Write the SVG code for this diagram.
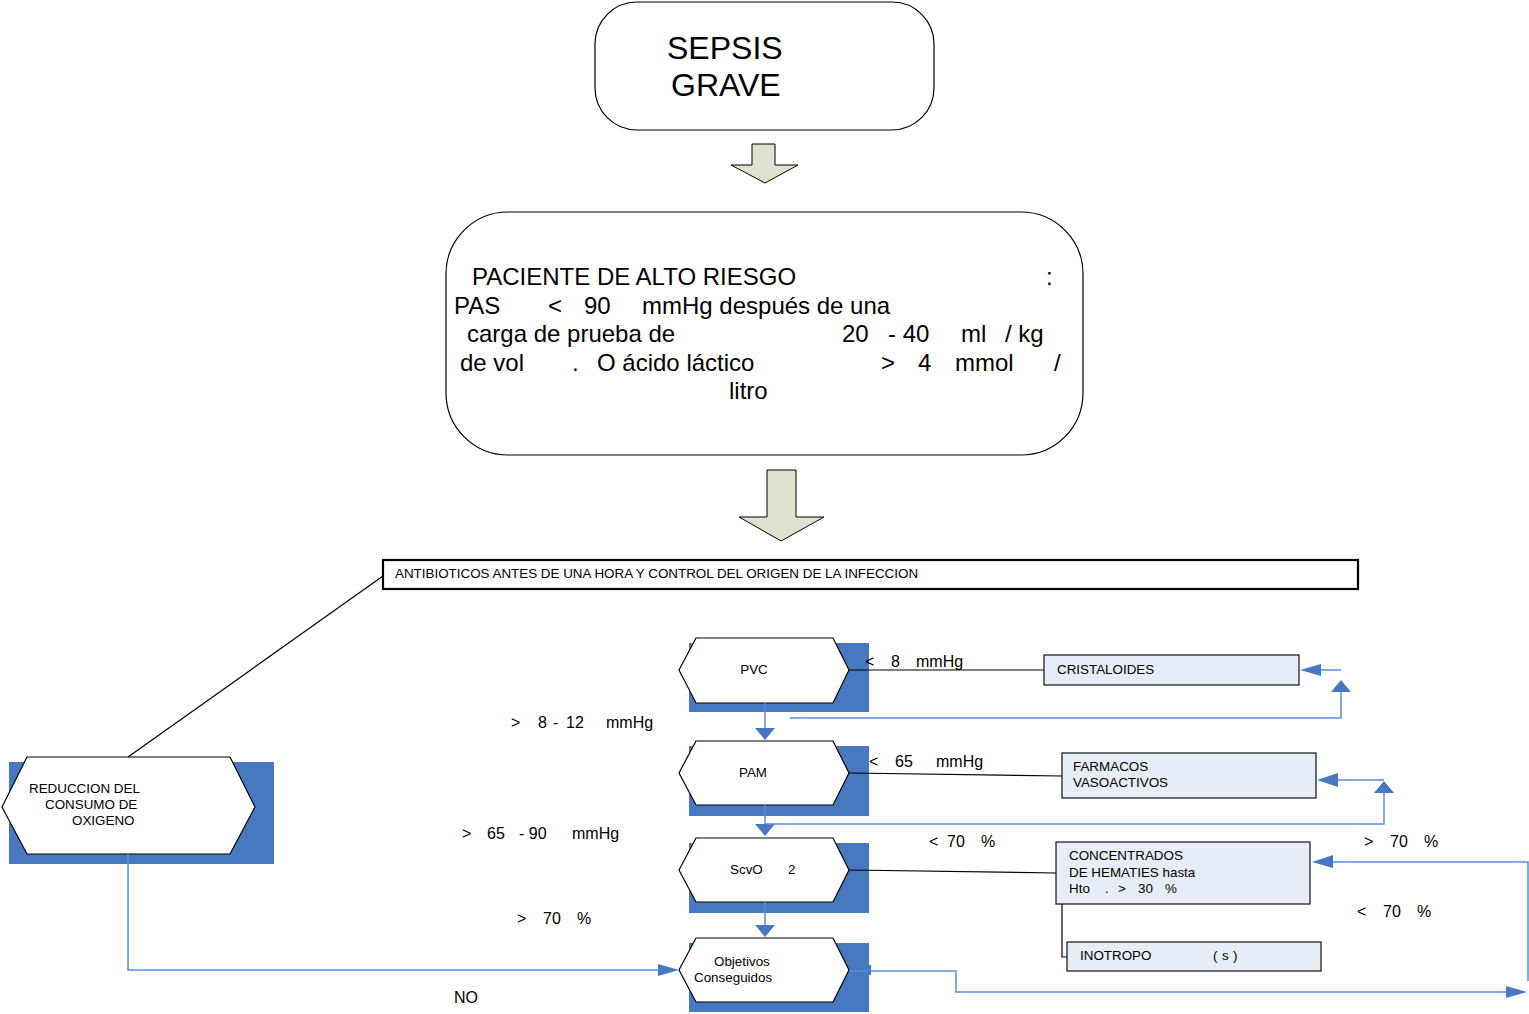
<svg xmlns="http://www.w3.org/2000/svg" width="1529" height="1014" viewBox="0 0 1529 1014">
<defs>
<style>
text{font-family:"Liberation Sans",Arial,sans-serif;fill:#000}
.big{font-size:32px}
.mid{font-size:24px}
.sm{font-size:13.4px}
.lb{font-size:16px}
.hex{fill:#fff;stroke:#000;stroke-width:1.2}
.sh{fill:#4878c0}
.bx{fill:#e6edf7;stroke:#222;stroke-width:1.3}
.bl{fill:none;stroke:#5b8bd5;stroke-width:1.5}
.k{fill:none;stroke:#000;stroke-width:1.2}
.ah{fill:#4878c0}
.fat{fill:#dde3cf;stroke:#000;stroke-width:1}
</style>
</defs>
<rect width="1529" height="1014" fill="#fff"/>

<g id="sepsis">
<rect x="595" y="2" width="339" height="128" rx="42" fill="#fff" stroke="#000" stroke-width="1.2"/>
<text class="big" x="667" y="59">SEPSIS</text>
<text class="big" x="671" y="96">GRAVE</text>
</g>
<g id="arrow1">
<polygon class="fat" points="752,144 775,144 775,165 798,165 765,183 731,165 752,165"/>
</g>
<g id="paciente">
<rect x="446" y="212" width="637" height="243" rx="62" fill="#fff" stroke="#000" stroke-width="1.2"/>
<text class="mid" x="472" y="285">PACIENTE DE ALTO RIESGO</text>
<text class="mid" x="1046" y="285">:</text>
<text class="mid" y="314"><tspan x="454">PAS</tspan><tspan x="548">&lt;</tspan><tspan x="584">90</tspan><tspan x="642">mmHg después de una</tspan></text>
<text class="mid" y="342"><tspan x="467">carga de prueba de</tspan><tspan x="842">20</tspan><tspan x="888">- 40</tspan><tspan x="961">ml</tspan><tspan x="1005">/ kg</tspan></text>
<text class="mid" y="371"><tspan x="460">de vol</tspan><tspan x="572">.</tspan><tspan x="597">O ácido láctico</tspan><tspan x="881">&gt;</tspan><tspan x="918">4</tspan><tspan x="955">mmol</tspan><tspan x="1054">/</tspan></text>
<text class="mid" x="729" y="399">litro</text>
</g>
<g id="arrow2">
<polygon class="fat" points="767,470 796,470 796,517 824,517 781,541 739,517 767,517"/>
</g>
<g id="antibioticos">
<rect x="383" y="560" width="975" height="29" fill="#fff" stroke="#000" stroke-width="2.2"/>
<text class="sm" x="395" y="578">ANTIBIOTICOS ANTES DE UNA HORA Y CONTROL DEL ORIGEN DE LA INFECCION</text>
</g>

<g id="pvc">
<rect class="sh" x="689" y="643" width="180" height="69"/>
<polygon class="hex" points="679,670 696,638 833,638 849,670 833,703 696,703"/>
<text class="sm" x="754" y="674" text-anchor="middle">PVC</text>
</g>
<g id="pam">
<rect class="sh" x="689" y="746" width="180" height="70"/>
<polygon class="hex" points="679,773 696,741 833,741 849,773 833,805 696,805"/>
<text class="sm" x="753" y="777" text-anchor="middle">PAM</text>
</g>
<g id="scvo2">
<rect class="sh" x="689" y="843" width="180" height="70"/>
<polygon class="hex" points="679,870 696,838 833,838 849,870 833,902 696,902"/>
<text class="sm" x="730" y="874">ScvO</text>
<text class="sm" x="788" y="874">2</text>
</g>
<g id="objetivos">
<rect class="sh" x="689" y="943" width="180" height="69"/>
<polygon class="hex" points="679,970 696,938 833,938 849,970 833,1002 696,1002"/>
<text class="sm" x="714" y="966">Objetivos</text>
<text class="sm" x="694" y="982">Conseguidos</text>
</g>
<g id="reduccion">
<rect class="sh" x="9" y="762" width="265" height="102"/>
<polygon class="hex" points="2,807 27,757 230,757 255,807 230,854 27,854"/>
<text class="sm" x="29" y="793">REDUCCION DEL</text>
<text class="sm" x="45" y="809">CONSUMO DE</text>
<text class="sm" x="72" y="825">OXIGENO</text>
</g>
<g id="cristaloides">
<rect class="bx" x="1044" y="655" width="255" height="30"/>
<text class="sm" x="1057" y="674">CRISTALOIDES</text>
</g>
<g id="farmacos">
<rect class="bx" x="1062" y="753" width="254" height="45"/>
<text class="sm" x="1073" y="771">FARMACOS</text>
<text class="sm" x="1073" y="787">VASOACTIVOS</text>
</g>
<g id="concentrados">
<rect class="bx" x="1056" y="842" width="254" height="62"/>
<text class="sm" x="1069" y="860">CONCENTRADOS</text>
<text class="sm" x="1069" y="877">DE HEMATIES hasta</text>
<text class="sm" y="893"><tspan x="1069">Hto</tspan><tspan x="1105">.</tspan><tspan x="1118">&gt;</tspan><tspan x="1138">30</tspan><tspan x="1165">%</tspan></text>
</g>
<g id="inotropo">
<rect class="bx" x="1067" y="942" width="254" height="29"/>
<text class="sm" x="1080" y="960">INOTROPO</text>
<text class="sm" y="960"><tspan x="1213">(</tspan><tspan x="1222">s</tspan><tspan x="1233">)</tspan></text>
</g>

<g id="connectors">
<line class="k" x1="383" y1="576" x2="128" y2="757"/>
<line class="k" x1="849" y1="670" x2="1044" y2="670"/>
<line class="k" x1="849" y1="773" x2="1062" y2="776"/>
<line class="k" x1="849" y1="870" x2="1056" y2="873"/>
<polyline class="k" points="1062,904 1062,957 1067,957"/>
<line class="bl" x1="765" y1="703" x2="765" y2="730"/>
<polygon class="ah" points="755,728 775,728 765,740"/>
<line class="bl" x1="765" y1="805" x2="765" y2="826"/>
<polygon class="ah" points="755,824 775,824 765,836"/>
<line class="bl" x1="765" y1="902" x2="765" y2="927"/>
<polygon class="ah" points="755,925 775,925 765,937"/>
<polyline class="bl" points="790,718 1341,718 1341,690"/>
<polygon class="ah" points="1331,692 1351,692 1341,680"/>
<line class="bl" x1="1341" y1="670" x2="1318" y2="670"/>
<polygon class="ah" points="1321,664 1321,676 1300,670"/>
<polyline class="bl" points="765,824 1384,824 1384,792"/>
<polygon class="ah" points="1374,793 1394,793 1384,781"/>
<line class="bl" x1="1384" y1="780" x2="1336" y2="780"/>
<polygon class="ah" points="1338,773 1338,787 1317,780"/>
<polyline class="bl" points="1528,981 1528,862 1330,862"/>
<polygon class="ah" points="1333,855 1333,868 1312,862"/>
<polyline class="bl" points="849,971 956,971 956,992 1508,992"/>
<rect class="ah" x="868" y="965" width="3" height="10"/>
<polygon class="ah" points="1506,986 1506,998 1527,992"/>
<polyline class="bl" points="128,854 128,970 660,970"/>
<polygon class="ah" points="658,964 658,976 679,970"/>
</g>

<g id="labels">
<text class="lb" y="667"><tspan x="865">&lt;</tspan><tspan x="891">8</tspan><tspan x="916">mmHg</tspan></text>
<text class="lb" y="767"><tspan x="869">&lt;</tspan><tspan x="895">65</tspan><tspan x="936">mmHg</tspan></text>
<text class="lb" y="847"><tspan x="929">&lt;</tspan><tspan x="947">70</tspan><tspan x="981">%</tspan></text>
<text class="lb" y="728"><tspan x="511">&gt;</tspan><tspan x="538">8</tspan><tspan x="553">-</tspan><tspan x="566">12</tspan><tspan x="606">mmHg</tspan></text>
<text class="lb" y="839"><tspan x="462">&gt;</tspan><tspan x="487">65</tspan><tspan x="519">- 90</tspan><tspan x="572">mmHg</tspan></text>
<text class="lb" y="924"><tspan x="517">&gt;</tspan><tspan x="543">70</tspan><tspan x="577">%</tspan></text>
<text class="lb" y="847"><tspan x="1364">&gt;</tspan><tspan x="1390">70</tspan><tspan x="1424">%</tspan></text>
<text class="lb" y="917"><tspan x="1357">&lt;</tspan><tspan x="1383">70</tspan><tspan x="1417">%</tspan></text>
<text class="lb" x="454" y="1003">NO</text>
</g>
</svg>
